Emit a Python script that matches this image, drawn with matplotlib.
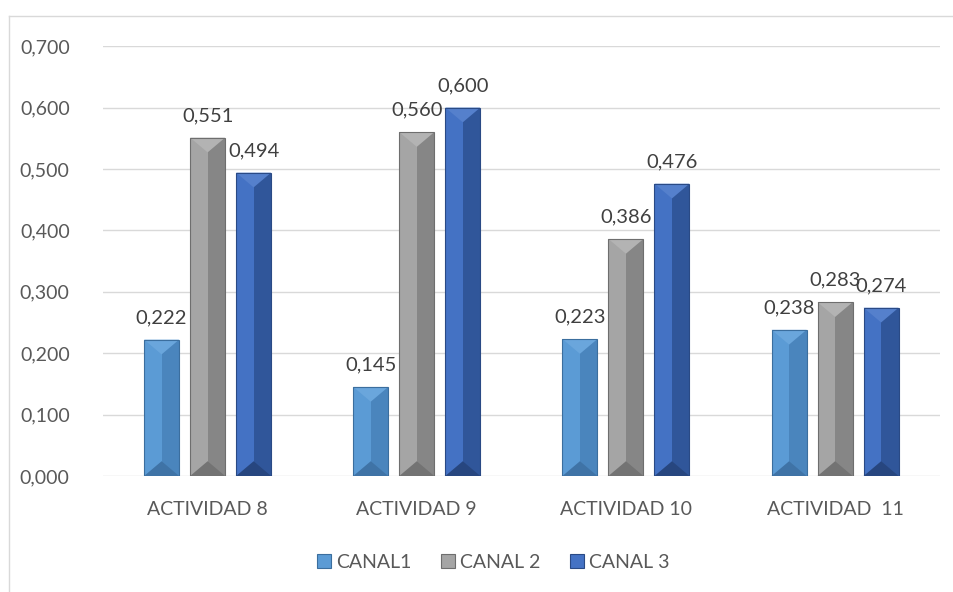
import matplotlib.pyplot as plt
import numpy as np
from matplotlib.patches import Polygon, Rectangle

categorias = ['ACTIVIDAD 8', 'ACTIVIDAD 9', 'ACTIVIDAD 10', 'ACTIVIDAD  11']
canal1 = [0.222, 0.145, 0.223, 0.238]
canal2 = [0.551, 0.560, 0.386, 0.283]
canal3 = [0.494, 0.600, 0.476, 0.274]
series = ['CANAL1', 'CANAL 2', 'CANAL 3']

# colores: base, cara derecha, cara superior, cara inferior, borde
colores = [
    ('#5B9BD5', '#4A85BD', '#6AA6DC', '#3F73A6', '#3B6E9E'),
    ('#A5A5A5', '#868686', '#B3B3B3', '#737373', '#6E6E6E'),
    ('#4472C4', '#30569A', '#5580CC', '#27467F', '#2A4A85'),
]

plt.rcParams['font.family'] = ['Lato', 'DejaVu Sans']

fig = plt.figure(figsize=(9.54, 5.92), dpi=100)
ax = fig.add_axes([0.108, 0.196, 0.877, 0.726])

x = np.arange(len(categorias))
ancho = 0.167
paso = 0.22
bisel = 0.024


def biselar(ax, barras, col):
    base, der, sup, inf, borde = col
    for b in barras:
        x0 = b.get_x()
        w = b.get_width()
        h = b.get_height()
        d = min(bisel, h / 2)
        ax.add_patch(Rectangle((x0 + w / 2, 0), w / 2, h, color=der, lw=0, zorder=3))
        ax.add_patch(Polygon([(x0, h), (x0 + w, h), (x0 + w / 2, h - d)],
                             closed=True, color=sup, lw=0, zorder=4))
        ax.add_patch(Polygon([(x0, 0), (x0 + w, 0), (x0 + w / 2, d)],
                             closed=True, color=inf, lw=0, zorder=4))
        ax.add_patch(Rectangle((x0, 0), w, h, fill=False, ec=borde, lw=0.8, zorder=5))


datos = [canal1, canal2, canal3]
for i, valores in enumerate(datos):
    pos = x + (i - 1) * paso
    barras = ax.bar(pos, valores, ancho, color=colores[i][0], label=series[i], zorder=2,
                    linewidth=0)
    biselar(ax, barras, colores[i])
    for p, v in zip(pos, valores):
        ax.text(p, v + 0.022, ('%.3f' % v).replace('.', ','), ha='center', va='bottom',
                fontsize=14.5, color='#404040', zorder=6)

ax.set_xlim(-0.5, 3.5)
ax.set_ylim(0, 0.7)
ax.set_yticks(np.arange(0, 0.71, 0.1))
ax.set_yticklabels([('%.3f' % t).replace('.', ',') for t in np.arange(0, 0.71, 0.1)])
ax.set_xticks(x)
ax.set_xticklabels(categorias)
ax.tick_params(axis='both', length=0, labelsize=14, labelcolor='#595959')
ax.tick_params(axis='y', pad=24)
ax.tick_params(axis='x', pad=18)
ax.grid(axis='y', color='#D9D9D9', linewidth=1, zorder=0)
for s in ax.spines.values():
    s.set_visible(False)

handles = [Rectangle((0, 0), 1, 1, fc=c[0], ec=c[4], lw=0.8) for c in colores]
fig.legend(handles, series, loc='center', bbox_to_anchor=(0.517, 0.05), ncol=3, frameon=False,
           fontsize=14, labelcolor='#595959', handlelength=0.75, handleheight=0.75,
           handletextpad=0.25, columnspacing=1.5)

# borde del area del grafico
fig.add_artist(plt.Line2D([0.0094, 0.0094], [0, 0.973], color='#D9D9D9', lw=1))
fig.add_artist(plt.Line2D([0.0094, 1], [0.973, 0.973], color='#D9D9D9', lw=1))

fig.savefig('out.png', dpi=100)
